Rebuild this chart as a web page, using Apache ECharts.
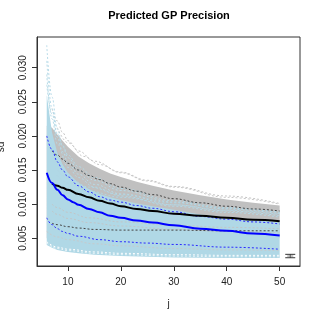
<!DOCTYPE html>
<html><head><meta charset="utf-8">
<script src="https://cdn.jsdelivr.net/npm/echarts@6/dist/echarts.min.js"></script>
<style>html,body{margin:0;padding:0;background:#fff}#c{width:315px;height:315px}</style>
</head><body><div id="c"></div>
<script>
const xTicks = [10, 20, 30, 40, 50];
const yTicks = [0.005, 0.010, 0.015, 0.020, 0.025, 0.030];

const blackMean  = [[7,0.0130],[8,0.0127],[9,0.0124],[10,0.0121],[12,0.0115],[14,0.0110],[16,0.0105],[18,0.0101],[20,0.0097],[23,0.0093],[26,0.0090],[30,0.0086],[35,0.0083],[40,0.0080],[45,0.0077],[50,0.0075]];
const blackUpper = [[7,0.0178],[8,0.0172],[9,0.0166],[10,0.0160],[12,0.0150],[14,0.0142],[16,0.0136],[18,0.0130],[20,0.0125],[23,0.0119],[26,0.0114],[30,0.0108],[35,0.0102],[40,0.0097],[45,0.0093],[50,0.0090]];
const blackLower = [[7,0.0072],[8,0.0070],[10,0.0067],[12,0.0065],[15,0.0063],[20,0.0062],[30,0.0062],[40,0.0061],[50,0.0061]];
const blueMean   = [[6,0.0146],[7,0.0131],[8,0.0121],[9,0.0113],[10,0.0107],[11,0.0103],[12,0.0099],[14,0.0093],[16,0.0088],[18,0.0083],[20,0.0080],[23,0.0076],[26,0.0073],[30,0.0069],[35,0.0064],[40,0.0061],[45,0.0057],[50,0.0054]];
const blueUpper  = [[6,0.0200],[7,0.0180],[8,0.0162],[9,0.0150],[10,0.0140],[12,0.0127],[14,0.0118],[16,0.0111],[18,0.0106],[20,0.0103],[23,0.0098],[26,0.0094],[30,0.0089],[35,0.0082],[40,0.0078],[45,0.0074],[50,0.0071]];
const blueLower  = [[6,0.0080],[7,0.0070],[8,0.0064],[9,0.0060],[10,0.0057],[12,0.0053],[16,0.0048],[20,0.0045],[25,0.0043],[30,0.0041],[40,0.0037],[50,0.0034]];

const grayBandHi = [[6,0.0215],[7,0.0212],[8,0.0202],[9,0.0193],[10,0.0184],[12,0.0170],[14,0.0160],[16,0.0152],[18,0.0145],[20,0.0140],[23,0.0133],[26,0.0127],[30,0.0120],[35,0.0113],[40,0.0107],[45,0.0102],[50,0.0098]];
const grayBandLo = [[6,0.0050],[10,0.0050],[20,0.0050],[30,0.0050],[50,0.0050]];
const blueBandHi = [[6,0.0260],[7,0.0205],[8,0.0175],[9,0.0158],[10,0.0146],[12,0.0131],[14,0.0122],[16,0.0115],[18,0.0110],[20,0.0106],[23,0.0101],[26,0.0097],[30,0.0092],[35,0.0085],[40,0.0081],[45,0.0077],[50,0.0074]];
const blueBandLo = [[6,0.0040],[7,0.0036],[8,0.0033],[10,0.0030],[12,0.0028],[15,0.0026],[20,0.0024],[25,0.0023],[30,0.0022],[40,0.0021],[50,0.0021]];

const blueFringe1 = [[6,0.0333],[7,0.0257],[8,0.0210],[9,0.0185],[10,0.0168],[12,0.0150],[15,0.0135],[20,0.0120],[30,0.0103],[40,0.0093],[50,0.0086]];
const blueFringe2 = [[6,0.0310],[7,0.0240],[8,0.0198],[9,0.0177],[10,0.0161],[12,0.0144],[15,0.0129],[20,0.0115],[30,0.0099],[40,0.0090],[50,0.0083]];
const blueFringe3 = [[6,0.0290],[7,0.0225],[8,0.0188],[10,0.0154],[12,0.0139],[15,0.0125],[20,0.0112],[30,0.0097],[40,0.0088],[50,0.0081]];
const blueFringe4 = [[6,0.0275],[7,0.0232],[8,0.0204],[9,0.0186],[10,0.0172],[12,0.0155],[15,0.0139],[20,0.0123],[30,0.0105],[40,0.0095],[50,0.0088]];
const grayFringe1 = [[7,0.0240],[8,0.0222],[9,0.0205],[10,0.0193],[12,0.0178],[15,0.0163],[20,0.0147],[25,0.0135],[30,0.0126],[40,0.0112],[50,0.0101]];
const grayFringe2 = [[8,0.0212],[10,0.0190],[13,0.0170],[16,0.0158],[20,0.0146],[25,0.0134],[30,0.0125],[40,0.0110],[50,0.0100]];
const grayStreak1 = [[7,0.0100],[8,0.0095],[10,0.0088],[14,0.0080],[20,0.0074],[30,0.0069],[40,0.0066],[50,0.0064]];
const grayStreak2 = [[7,0.0090],[8,0.0085],[10,0.0079],[14,0.0073],[20,0.0068],[30,0.0063],[40,0.0060],[50,0.0058]];
const grayStreak3 = [[6,0.0060],[8,0.0052],[10,0.0048],[15,0.0042],[20,0.0039],[30,0.0035],[40,0.0033],[50,0.0032]];
const blueStreak1 = [[8,0.0150],[10,0.0138],[14,0.0125],[20,0.0114],[30,0.0102],[40,0.0094],[50,0.0088]];
const blueStreak2 = [[8,0.0142],[10,0.0131],[14,0.0119],[20,0.0110],[30,0.0099],[40,0.0091],[50,0.0085]];
const blueBottom1 = [[6,0.0045],[8,0.0037],[10,0.0034],[15,0.0030],[20,0.0028],[30,0.0026],[40,0.0025],[50,0.0025]];
const blueBottom2 = [[6,0.0043],[8,0.0035],[10,0.0032],[15,0.0028],[20,0.0026],[30,0.0024],[40,0.0023],[50,0.0023]];

const errX = 52, errLo = 0.00215, errMid = 0.0024, errHi = 0.00265;

const FONT = 'Liberation Sans, Arial, Helvetica, sans-serif';
const chart = echarts.init(document.getElementById('c'), null, {renderer: 'canvas'});

function band(hi, lo, color, z) {
  return {
    type: 'custom', silent: true, z: z, clip: true,
    data: [[hi[0][0], hi[0][1]]],
    renderItem: function (params, api) {
      const pts = hi.map(p => api.coord(p)).concat(lo.slice().reverse().map(p => api.coord(p)));
      return {type: 'polygon', shape: {points: pts}, style: {fill: color}};
    }
  };
}
function line(data, color, width, dashed, z) {
  return {
    type: 'line', data: data, showSymbol: false, symbol: 'none', silent: true, z: z,
    smooth: 0.4, smoothMonotone: 'x',
    lineStyle: {color: color, width: width, type: dashed ? [2, 2] : 'solid'},
    animation: false
  };
}

chart.setOption({
  animation: false,
  grid: {left: 37, right: 15, top: 37, bottom: 49, show: true, borderColor: '#333', borderWidth: 1, backgroundColor: 'transparent'},
  xAxis: {
    type: 'value', min: 4.16, max: 53.84,
    splitLine: {show: false},
    axisLine: {show: true, lineStyle: {color: '#333'}},
    axisTick: {show: true, length: 5, customValues: xTicks, lineStyle: {color: '#333'}},
    axisLabel: {customValues: xTicks, fontSize: 10, color: '#222', margin: 11, fontFamily: FONT},
    name: 'j', nameLocation: 'middle', nameGap: 33,
    nameTextStyle: {fontSize: 10, color: '#222', fontFamily: FONT}
  },
  yAxis: {
    type: 'value', min: 0.00094, max: 0.0345,
    splitLine: {show: false},
    axisLine: {show: true, lineStyle: {color: '#333'}},
    axisTick: {show: true, length: 5, customValues: yTicks, lineStyle: {color: '#333'}},
    axisLabel: {customValues: yTicks, fontSize: 10, color: '#222', margin: 9, rotate: 90, fontFamily: FONT,
      formatter: v => v.toFixed(3)}
  },
  graphic: [
    {type: 'text', x: 169, y: 16, style: {text: 'Predicted GP Precision', fontSize: 11, fontWeight: 'bold', fill: '#000', fontFamily: FONT, textAlign: 'center', textVerticalAlign: 'middle'}},
    {type: 'text', x: 1, y: 147, rotation: Math.PI / 2, style: {text: 'sd', fontSize: 10, fill: '#222', fontFamily: FONT, textAlign: 'center', textVerticalAlign: 'middle'}}
  ],
  series: [
    band(grayBandHi, grayBandLo, '#c0c0c0', 1),
    line(grayFringe1, '#c4c4c4', 1, true, 2),
    line(grayFringe2, '#c8c8c8', 1, true, 2),
    band(blueBandHi, blueBandLo, '#b0d8e6', 3),
    line(blueFringe1, '#b8dbe8', 1, true, 4),
    line(blueFringe2, '#b8dbe8', 1, true, 4),
    line(blueFringe3, '#b4d9e6', 1, true, 4),
    line(blueFringe4, '#b4d9e6', 1, true, 4),
    line(blueStreak1, '#b0d6e4', 1, true, 4),
    line(blueStreak2, '#b0d6e4', 1, true, 4),
    line(grayStreak1, '#c2c6c8', 1, true, 4),
    line(grayStreak2, '#c2c6c8', 1, true, 4),
    line(grayStreak3, '#c6cacc', 1, true, 4),
    line(blueBottom1, '#ffffff', 1, true, 4),
    line(blueBottom2, '#e8f4f8', 1, true, 4),
    line(blackUpper, '#444', 1, true, 6),
    line(blackLower, '#444', 1, true, 6),
    line(blueUpper, '#2a2aff', 1, true, 6),
    line(blueLower, '#2a2aff', 1, true, 6),
    line(blackMean, '#000', 2, false, 7),
    line(blueMean, '#0000ff', 2, false, 7),
    {
      type: 'custom', silent: true, z: 8, clip: false,
      data: [[errX, errMid]],
      renderItem: function (params, api) {
        const t = api.coord([errX, errHi]), b = api.coord([errX, errLo]), m = api.coord([errX, errMid]);
        const s = {stroke: '#333', lineWidth: 1};
        return {type: 'group', children: [
          {type: 'line', shape: {x1: t[0], y1: t[1], x2: b[0], y2: b[1]}, style: s},
          {type: 'line', shape: {x1: t[0] - 5, y1: t[1], x2: t[0] + 5, y2: t[1]}, style: s},
          {type: 'line', shape: {x1: b[0] - 5, y1: b[1], x2: b[0] + 5, y2: b[1]}, style: s},
          {type: 'line', shape: {x1: m[0] - 3, y1: m[1], x2: m[0] + 3, y2: m[1]}, style: {stroke: '#888', lineWidth: 1}}
        ]};
      }
    }
  ]
});
</script></body></html>
